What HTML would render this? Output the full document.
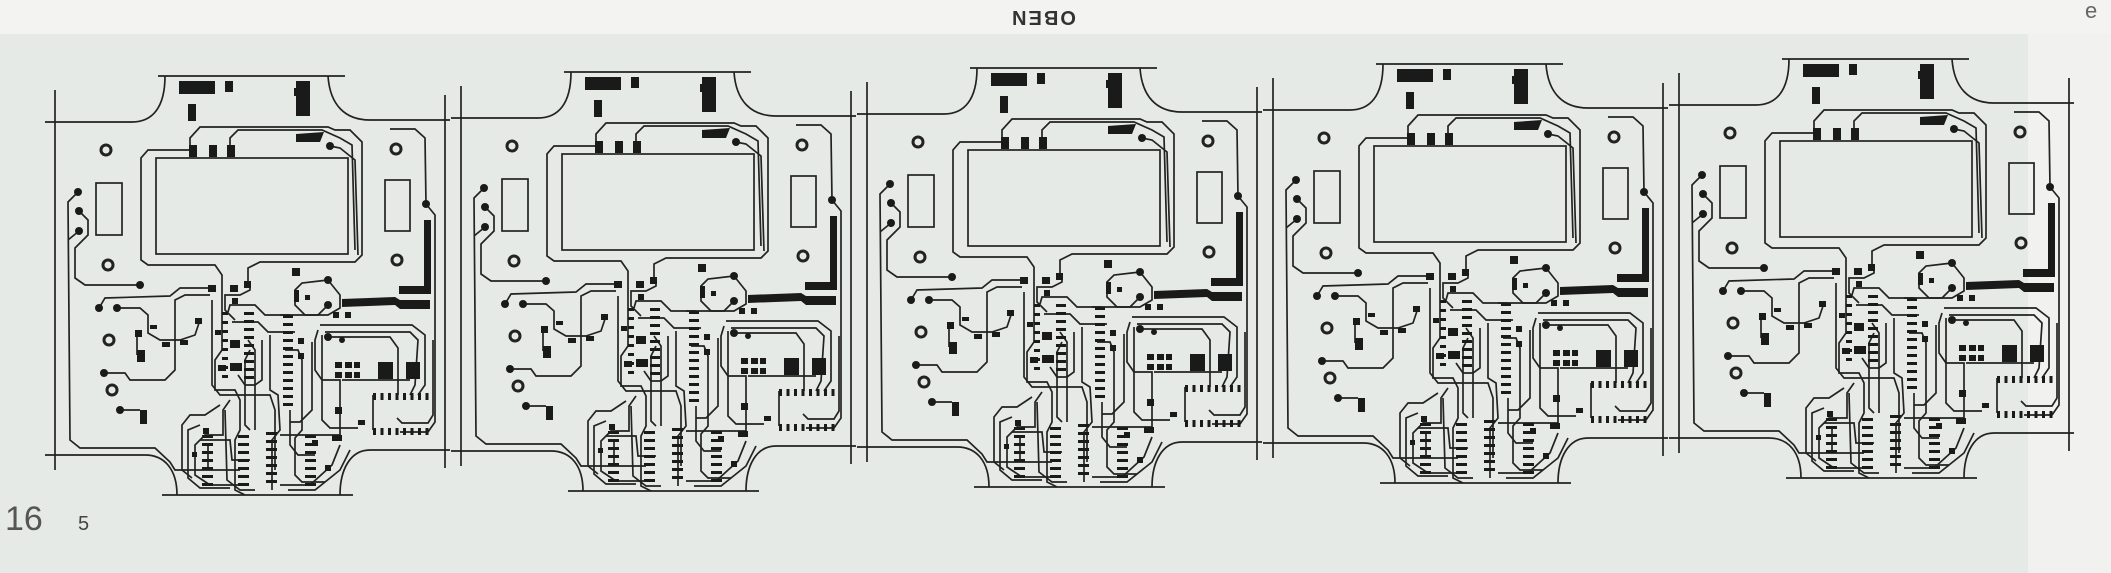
<!DOCTYPE html>
<html><head><meta charset="utf-8"><style>
html,body{margin:0;padding:0;background:#e7ebe7;}
svg{display:block}
</style></head><body>
<svg id="s" width="2111" height="573" viewBox="0 0 2111 573" xmlns="http://www.w3.org/2000/svg">
<rect width="2111" height="573" fill="#e6eae6"/>
<rect width="2111" height="34" fill="#f3f4f2"/>
<rect x="2028" y="34" width="83" height="539" fill="#f1f2f0"/>
<text x="0" y="0" transform="translate(1043,11) rotate(180)" font-family="Liberation Sans, sans-serif" font-size="20" font-weight="bold" fill="#333" text-anchor="middle" letter-spacing="2">OBEN</text>
<text x="2085" y="18" font-family="Liberation Sans, sans-serif" font-size="22" fill="#666">e</text>
<text x="5" y="530" font-family="Liberation Sans, sans-serif" font-size="34" fill="#555">16</text>
<text x="78" y="530" font-family="Liberation Sans, sans-serif" font-size="20" fill="#444">5</text>
<defs>
<g id="b" fill="none" stroke="#222" stroke-width="1.7">
 <path d="M118 26 L305 26"/>
 <path d="M125 26 C125 58 112 72 92 72 L5 72" />
 <path d="M15 40 L15 420"/>
 <path d="M288 26 C290 55 305 70 330 70 L410 70"/>
 <path d="M405 45 L405 418"/>
 <path d="M5 405 L105 405 C125 405 137 420 137 445"/>
 <path d="M122 445 L313 445"/>
 <path d="M410 400 L330 400 C310 400 300 420 300 445"/>
 <rect x="116" y="108" width="192" height="96"/>
 <path d="M150 96 L150 88 L160 77 L288 77 L295 80 L310 80 L322 92 L322 205 L315 212 L220 212 L208 218 L208 232"/>
 <path d="M150 100 L108 100 L101 108 L101 210 L108 215 L175 215 L182 225 L182 300"/>
 <path d="M190 96 L190 88 L198 80 L282 80 L300 88 L312 95 L315 200"/>
 <rect x="56" y="133" width="26" height="52"/>
 <rect x="345" y="130" width="25" height="51"/>
 <path d="M38 142 L28 152 L30 390 L40 398 L115 398 L130 412 L135 420 L200 420"/>
 <path d="M39 161 L48 170 L48 185 L35 198 L35 228 L45 235 L100 235"/>
 <path d="M39 181 L28 190"/>
 <path d="M59 258 L65 248 L130 246 L140 238 L172 238"/>
 <path d="M77 258 L100 258 L108 265 L108 283 L120 290 L140 290 L155 285 L160 270"/>
 <path d="M64 323 L85 323 L90 330 L125 330 L135 320 L135 250 L145 245 L170 245"/>
 <path d="M80 360 L100 360"/>
 <path d="M97 285 L97 305"/>
 <path d="M172 250 L172 335 L180 345 L230 345 L235 360 L235 420"/>
 <path d="M350 79 L375 79 L385 88 L386 154 L395 165 L395 372 L388 382 L360 382"/>
 <path d="M288 287 L350 287 L358 298 L358 345"/>
 <path d="M302 330 L370 330"/>
 <path d="M278 280 L275 290 L275 320 L282 330 L300 330 L300 385 L240 385"/>
 <path d="M282 285 L282 370 L290 378 L318 378"/>
 <path d="M272 292 L272 360 L260 372 L250 372"/>
 <path d="M290 96 L300 98 L315 110 L318 205"/>
 <path d="M370 345 L375 335 L378 290 L370 282 L285 282"/>
 <path d="M378 345 L385 335 L385 285 L372 275 L280 275"/>
 <path d="M333 345 L333 380"/>
 <path d="M357 368 L362 373 L388 373 L393 365 L393 290"/>
 <path d="M288 230 L300 245 L300 258 L288 265 L265 265 L255 255 L255 240 L262 233 L288 230"/>
 <path d="M288 255 L278 265 L240 265"/>
 <path d="M210 232 L210 240 L200 245 L185 245 L185 260 L195 270"/>
 <path d="M182 300 L175 310 L175 340 L195 340 L200 350 L200 380 L195 390 L195 440 L205 445"/>
 <path d="M188 262 L190 255 L215 255 L225 265 L250 265"/>
 <path d="M192 272 L218 272 L228 282 L255 282"/>
 <path d="M230 285 L230 340 L238 345 L240 380 L232 390 L232 440"/>
 <path d="M222 290 L222 330 L215 335 L205 335 L198 325"/>
 <path d="M190 350 L183 360 L183 385 L165 385 L155 395 L155 425 L170 435 L200 435"/>
 <path d="M180 355 L165 365 L150 365 L142 375 L142 420 L152 428"/>
 <path d="M185 360 L187 430 L200 440 L215 440"/>
 <path d="M245 300 L258 300 L262 310 L262 380 L255 388 L255 425 L262 432 L285 432"/>
 <path d="M250 360 L250 395 L258 405 L275 405"/>
 <path d="M215 380 L215 300 L208 290"/>
 <path d="M160 390 L190 390 L192 410 L210 410"/>
 <path d="M168 395 L168 420"/>
 <path d="M248 440 L275 440 L300 420 L310 400"/>
 <path d="M240 435 L270 435 L292 415 L300 395"/>
 <path d="M160 375 L148 380 L148 428 L160 438 L190 438"/>
 <path d="M210 300 L205 310 L205 375 L210 380"/>
 <circle cx="66" cy="100" r="5" stroke-width="3"/>
 <circle cx="68" cy="215" r="5" stroke-width="3"/>
 <circle cx="69" cy="290" r="5" stroke-width="3"/>
 <circle cx="72" cy="340" r="5" stroke-width="3"/>
 <circle cx="356" cy="99" r="5" stroke-width="3"/>
 <circle cx="357" cy="210" r="5" stroke-width="3"/>
 <g fill="#1a1a1a" stroke="none">
  <rect x="139" y="31" width="36" height="13"/><rect x="185" y="31" width="8" height="11"/>
  <rect x="148" y="54" width="8" height="17"/>
  <rect x="256" y="31" width="14" height="35"/><rect x="254" y="38" width="6" height="8"/>
  <path d="M256 84 L284 82 L280 92 L256 92Z"/>
  <rect x="149" y="95" width="8" height="12"/><rect x="169" y="95" width="8" height="12"/><rect x="187" y="95" width="8" height="12"/>
  <rect x="384" y="170" width="7" height="72"/><rect x="359" y="236" width="32" height="8"/>
  <path d="M302 249 L355 247 L360 250 L390 250 L390 259 L360 259 L355 255 L302 257Z"/>
  <circle cx="38" cy="142" r="4"/><circle cx="39" cy="161" r="4"/><circle cx="39" cy="181" r="4"/>
  <circle cx="100" cy="235" r="4"/><circle cx="59" cy="258" r="4"/><circle cx="77" cy="258" r="4"/>
  <circle cx="64" cy="323" r="4"/><circle cx="80" cy="360" r="4"/><circle cx="290" cy="96" r="4"/>
  <circle cx="386" cy="154" r="4"/><circle cx="288" cy="230" r="4"/><circle cx="288" cy="255" r="4"/><circle cx="288" cy="287" r="4"/>
  <circle cx="302" cy="290" r="3"/>
  <rect x="97" y="300" width="8" height="12"/><rect x="95" y="280" width="7" height="7"/>
  <rect x="110" y="275" width="7" height="4"/><rect x="122" y="292" width="8" height="5"/><rect x="140" y="290" width="8" height="5"/>
  <rect x="155" y="268" width="7" height="6"/>
  <rect x="100" y="360" width="7" height="14"/>
  <rect x="168" y="235" width="8" height="7"/><rect x="190" y="235" width="8" height="7"/><rect x="204" y="231" width="7" height="7"/>
  <rect x="252" y="218" width="8" height="8"/><rect x="254" y="240" width="5" height="12"/><rect x="265" y="245" width="5" height="5"/>
  <rect x="190" y="290" width="10" height="8"/><rect x="178" y="315" width="8" height="6"/><rect x="190" y="313" width="12" height="8"/>
  <rect x="175" y="280" width="6" height="5"/><rect x="192" y="248" width="6" height="6"/>
  <rect x="293" y="262" width="6" height="6"/><rect x="305" y="262" width="6" height="6"/>
  <rect x="295" y="312" width="7" height="6"/><rect x="305" y="312" width="7" height="6"/><rect x="314" y="312" width="6" height="6"/>
  <rect x="295" y="322" width="7" height="6"/><rect x="305" y="322" width="7" height="6"/><rect x="314" y="322" width="6" height="6"/>
  <rect x="338" y="312" width="15" height="17"/><rect x="366" y="312" width="14" height="17"/>
  <rect x="295" y="357" width="7" height="7"/><rect x="318" y="370" width="7" height="5"/><rect x="292" y="385" width="10" height="6"/>
  <rect x="258" y="303" width="6" height="6"/><rect x="258" y="288" width="6" height="6"/>
  <rect x="163" y="378" width="6" height="6"/><rect x="152" y="402" width="5" height="5"/><rect x="285" y="415" width="6" height="6"/>
  <rect x="272" y="390" width="6" height="6"/>
 </g>
 <g id="pins" fill="#1a1a1a" stroke="none"></g>
</g>
</defs>
<use href="#b" transform="translate(40,50)"/>
<use href="#b" transform="translate(446,46)"/>
<use href="#b" transform="translate(852,42)"/>
<use href="#b" transform="translate(1258,38)"/>
<use href="#b" transform="translate(1664,33)"/>
</svg>
<script>
var g=document.getElementById('pins'),h='';
function row(x,y0,n,st,w,hh){for(var i=0;i<n;i++)h+='<rect x="'+x+'" y="'+(y0+i*st)+'" width="'+w+'" height="'+hh+'"/>';}
function col(y,x0,n,st,w,hh){for(var i=0;i<n;i++)h+='<rect x="'+(x0+i*st)+'" y="'+y+'" width="'+w+'" height="'+hh+'"/>';}
row(204,262,9,8,10,3);row(243,265,12,8,10,3);
row(162,385,7,8,11,3);row(198,385,7,8,11,3);row(226,382,7,8,11,3);row(265,385,7,8,11,3);
row(182,262,8,9,6,3);
col(343,333,8,7.5,3,7);col(378,333,8,7.5,3,7);
g.innerHTML=h;
</script>
</body></html>
